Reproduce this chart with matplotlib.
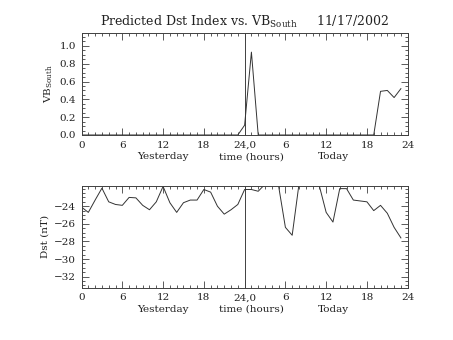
import matplotlib
matplotlib.use("Agg")
import matplotlib.pyplot as plt
from matplotlib.ticker import MultipleLocator, FixedLocator

plt.rcParams['font.family'] = ['DejaVu Serif']
plt.rcParams['mathtext.fontset'] = 'dejavuserif'

# hours since start of yesterday (0..47)
hours = list(range(48))

vb_south = ([0.0] * 23 + [0.0, 0.11, 0.93, 0.0] + [0.0] * 17
            + [0.49, 0.50, 0.42, 0.52])

dst = [-24.1, -24.7, -23.3, -21.95, -23.5, -23.8, -23.9, -23.0, -23.05, -23.9,
       -24.4, -23.5, -21.75, -23.6, -24.7, -23.6, -23.3, -23.3, -22.1, -22.4,
       -24.0, -24.9, -24.4, -23.8, -22.1, -22.1, -22.3, -21.5, -21.0, -21.7,
       -26.4, -27.3, -21.5, -20.5, -20.8, -21.7, -24.7, -25.8, -22.0, -22.0,
       -23.3, -23.4, -23.5, -24.5, -23.9, -24.8, -26.4, -27.6]

xtick_pos = [0, 6, 12, 18, 24, 30, 36, 42, 48]
xtick_labels = ['0', '6', '12', '18', '24,0', '6', '12', '18', '24']

fig = plt.figure(figsize=(4.53, 3.40), dpi=100)
ax1 = fig.add_axes([0.180, 0.603, 0.720, 0.300])
ax2 = fig.add_axes([0.180, 0.154, 0.720, 0.299])

col = '#404040'
tcol = '#222222'
for ax in (ax1, ax2):
    ax.set_xlim(0, 48)
    ax.xaxis.set_major_locator(FixedLocator(xtick_pos))
    ax.set_xticklabels(xtick_labels)
    ax.xaxis.set_minor_locator(MultipleLocator(1))
    ax.tick_params(which='both', direction='in', top=True, right=True,
                   colors=col, labelcolor=tcol, labelsize=7.5, width=0.6)
    ax.tick_params(which='major', length=5, pad=4)
    ax.tick_params(which='minor', length=2.5)
    for s in ax.spines.values():
        s.set_color(col)
        s.set_linewidth(0.7)
    ax.axvline(24, color=col, lw=0.7)
    tr = ax.get_xaxis_transform()
    ax.text(12, -0.215, 'Yesterday', transform=tr, ha='center', va='center',
            fontsize=7.5, color=tcol)
    ax.text(25, -0.215, 'time (hours)', transform=tr, ha='center', va='center',
            fontsize=7.5, color=tcol)
    ax.text(37, -0.215, 'Today', transform=tr, ha='center', va='center',
            fontsize=7.5, color=tcol)

ax1.plot(hours, vb_south, color='#333333', lw=0.7)
ax1.set_ylim(0, 1.145)
ax1.yaxis.set_major_locator(FixedLocator([0.0, 0.2, 0.4, 0.6, 0.8, 1.0]))
ax1.set_yticklabels(['0.0', '0.2', '0.4', '0.6', '0.8', '1.0'])
ax1.yaxis.set_minor_locator(MultipleLocator(0.05))
ax1.set_ylabel('VB$_{\\mathrm{South}}$', fontsize=7.5, color=tcol, labelpad=3)
ax1.set_title('Predicted Dst Index vs. VB$_{\\mathrm{South}}$     11/17/2002',
              fontsize=9, color=tcol, pad=5)

ax2.plot(hours, dst, color='#333333', lw=0.7)
ax2.set_ylim(-33.25, -21.7)
ax2.yaxis.set_major_locator(FixedLocator([-32, -30, -28, -26, -24]))
ax2.set_yticklabels(['\u221232', '\u221230', '\u221228', '\u221226', '\u221224'])
ax2.yaxis.set_minor_locator(MultipleLocator(0.5))
ax2.set_ylabel('Dst (nT)', fontsize=7.5, color=tcol, labelpad=3)

fig.savefig('out.png', dpi=100)
